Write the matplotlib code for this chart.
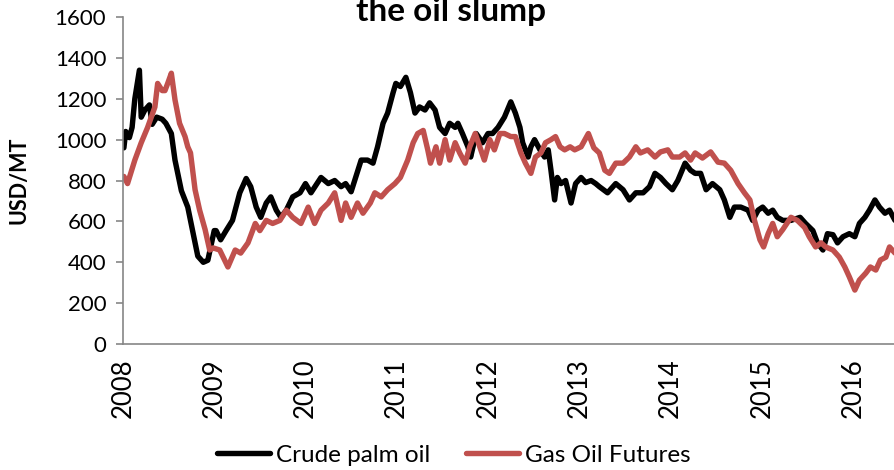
import matplotlib
matplotlib.use("Agg")
import matplotlib.pyplot as plt

plt.rcParams["font.family"] = ["Lato", "DejaVu Sans"]

# Weekly-ish prices in USD per metric tonne, x in decimal years
palm_dates = [
    2008.01, 2008.03, 2008.07, 2008.10, 2008.13, 2008.18, 2008.20, 2008.24, 2008.29, 2008.32,
    2008.37, 2008.43, 2008.47, 2008.53, 2008.57, 2008.64, 2008.71, 2008.76, 2008.82, 2008.88,
    2008.93, 2009.00, 2009.02, 2009.07, 2009.13, 2009.20, 2009.28, 2009.35, 2009.40, 2009.46,
    2009.51, 2009.57, 2009.62, 2009.68, 2009.73, 2009.79, 2009.86, 2009.94, 2010.00, 2010.06,
    2010.17, 2010.25, 2010.32, 2010.39, 2010.44, 2010.50, 2010.55, 2010.61, 2010.68, 2010.74,
    2010.79, 2010.85, 2010.90, 2010.96, 2010.99, 2011.04, 2011.10, 2011.15, 2011.20, 2011.25,
    2011.31, 2011.36, 2011.42, 2011.47, 2011.53, 2011.58, 2011.64, 2011.67, 2011.72, 2011.78,
    2011.81, 2011.87, 2011.94, 2012.00, 2012.05, 2012.11, 2012.18, 2012.25, 2012.30, 2012.35,
    2012.38, 2012.44, 2012.47, 2012.51, 2012.57, 2012.62, 2012.66, 2012.69, 2012.73, 2012.76,
    2012.80, 2012.85, 2012.91, 2012.96, 2013.02, 2013.07, 2013.13, 2013.18, 2013.22, 2013.31,
    2013.40, 2013.48, 2013.55, 2013.62, 2013.70, 2013.77, 2013.83, 2013.89, 2013.95, 2014.02,
    2014.08, 2014.16, 2014.22, 2014.27, 2014.33, 2014.39, 2014.46, 2014.54, 2014.59, 2014.65,
    2014.70, 2014.77, 2014.85, 2014.90, 2014.96, 2015.01, 2015.07, 2015.12, 2015.17, 2015.23,
    2015.32, 2015.42, 2015.48, 2015.56, 2015.61, 2015.67, 2015.72, 2015.78, 2015.83, 2015.89,
    2015.96, 2016.02, 2016.07, 2016.13, 2016.18, 2016.24, 2016.29, 2016.35, 2016.40, 2016.46,
]
palm_usd = [
    960, 1040, 1010, 1060, 1200, 1340, 1110, 1145, 1170, 1075,
    1110, 1100, 1080, 1030, 900, 750, 670, 560, 430, 400,
    410, 555, 555, 510, 555, 605, 740, 810, 770, 670,
    620, 690, 720, 655, 620, 655, 720, 740, 785, 740,
    815, 785, 800, 770, 785, 745, 815, 900, 900, 885,
    965, 1080, 1130, 1230, 1275, 1260, 1305, 1230, 1130, 1160,
    1145, 1180, 1145, 1060, 1030, 1080, 1060, 1080, 1030, 965,
    915, 1030, 985, 1030, 1030, 1060, 1110, 1185, 1130, 1060,
    985, 915, 965, 1000, 950, 915, 950, 850, 705, 815,
    785, 800, 690, 785, 815, 790, 800, 785, 770, 740,
    785, 755, 705, 740, 740, 770, 835, 815, 785, 755,
    800, 885, 850, 835, 835, 755, 785, 755, 705, 620,
    670, 670, 655, 605, 655, 670, 640, 655, 620, 605,
    605, 620, 590, 555, 495, 460, 540, 535, 495, 525,
    540, 525, 590, 620, 655, 705, 670, 640, 655, 605,
]

gasoil_dates = [
    2008.01, 2008.05, 2008.13, 2008.20, 2008.27, 2008.35, 2008.38, 2008.43, 2008.46, 2008.49,
    2008.53, 2008.57, 2008.62, 2008.68, 2008.71, 2008.74, 2008.79, 2008.84, 2008.90, 2008.95,
    2008.99, 2009.06, 2009.15, 2009.23, 2009.29, 2009.37, 2009.45, 2009.50, 2009.57, 2009.64,
    2009.72, 2009.79, 2009.86, 2009.95, 2010.03, 2010.10, 2010.17, 2010.25, 2010.32, 2010.39,
    2010.44, 2010.50, 2010.57, 2010.63, 2010.71, 2010.76, 2010.83, 2010.90, 2010.98, 2011.04,
    2011.12, 2011.18, 2011.23, 2011.29, 2011.34, 2011.37, 2011.43, 2011.47, 2011.53, 2011.58,
    2011.64, 2011.69, 2011.75, 2011.80, 2011.86, 2011.91, 2011.96, 2012.02, 2012.07, 2012.13,
    2012.18, 2012.25, 2012.30, 2012.36, 2012.41, 2012.47, 2012.52, 2012.58, 2012.63, 2012.69,
    2012.74, 2012.79, 2012.84, 2012.90, 2012.95, 2013.02, 2013.10, 2013.16, 2013.22, 2013.28,
    2013.33, 2013.40, 2013.48, 2013.55, 2013.62, 2013.67, 2013.75, 2013.83, 2013.89, 2013.97,
    2014.02, 2014.10, 2014.16, 2014.22, 2014.27, 2014.35, 2014.44, 2014.52, 2014.59, 2014.66,
    2014.74, 2014.81, 2014.87, 2014.92, 2014.98, 2015.02, 2015.07, 2015.12, 2015.17, 2015.23,
    2015.32, 2015.39, 2015.47, 2015.52, 2015.59, 2015.65, 2015.70, 2015.78, 2015.85, 2015.91,
    2015.96, 2016.02, 2016.07, 2016.14, 2016.19, 2016.25, 2016.30, 2016.36, 2016.40, 2016.46,
]
gasoil_usd = [
    820, 785, 900, 985, 1060, 1160, 1275, 1240, 1240, 1275,
    1325, 1195, 1080, 1015, 965, 935, 755, 655, 560, 460,
    470, 460, 377, 460, 445, 495, 590, 555, 605, 590,
    605, 655, 620, 590, 670, 590, 655, 690, 740, 605,
    690, 620, 690, 640, 690, 740, 720, 755, 785, 815,
    900, 985, 1030, 1045, 950, 885, 965, 885, 1000, 900,
    985, 935, 885, 965, 1030, 965, 900, 1000, 950, 1030,
    1030, 1015, 1015, 935, 885, 835, 915, 935, 985, 1000,
    1015, 965, 950, 965, 950, 965, 1030, 960, 935, 850,
    835, 885, 885, 915, 965, 935, 950, 915, 940, 950,
    915, 915, 935, 900, 935, 910, 940, 890, 885, 850,
    785, 740, 705, 605, 510, 475, 540, 590, 525, 560,
    620, 605, 570, 525, 475, 495, 475, 460, 425, 377,
    328, 264, 313, 347, 377, 362, 411, 425, 475, 445,
]

year_ticks = [2008, 2009, 2010, 2011, 2012, 2013, 2014, 2015, 2016]
y_ticks = [0, 200, 400, 600, 800, 1000, 1200, 1400, 1600]

PALM_COLOR = "#000000"
GASOIL_COLOR = "#C0504D"
AXIS_GRAY = "#868686"

fig = plt.figure(figsize=(8.95, 4.7), dpi=100)
ax = fig.add_axes([0.1374, 0.268, 0.8626, 0.6958])

ax.plot(palm_dates, palm_usd, color=PALM_COLOR, linewidth=3.9,
        solid_joinstyle="round", solid_capstyle="round", label="Crude palm oil")
ax.plot(gasoil_dates, gasoil_usd, color=GASOIL_COLOR, linewidth=3.9,
        solid_joinstyle="round", solid_capstyle="round", label="Gas Oil Futures")

ax.set_xlim(2008, 2016.46)
ax.set_ylim(0, 1600)
ax.set_yticks(y_ticks)
ax.set_xticks(year_ticks)
ax.set_xticklabels([str(y) for y in year_ticks], rotation=90, fontsize=18.5)
ax.tick_params(axis="y", labelsize=16, length=5, width=1.2, color=AXIS_GRAY, pad=7)
ax.tick_params(axis="x", length=0, pad=10)

for side in ("top", "right"):
    ax.spines[side].set_visible(False)
for side in ("left", "bottom"):
    ax.spines[side].set_color(AXIS_GRAY)
    ax.spines[side].set_linewidth(1.2)

ax.set_ylabel("USD/MT", fontsize=15.5, fontweight="bold")
ax.yaxis.set_label_coords(-0.121, 0.5)

# title sits partly above the canvas edge, so its ascenders get clipped
fig.text(0.504, 1 - 21 / 470, "the oil slump", ha="center", va="baseline",
         fontsize=24, fontweight="bold")

fig.legend(loc="center", bbox_to_anchor=(0.507, 1 - 455 / 470), ncol=2,
           frameon=False, fontsize=17.5, handlelength=2.15, handletextpad=0.25,
           columnspacing=1.5)

fig.savefig("out.png", dpi=100)
